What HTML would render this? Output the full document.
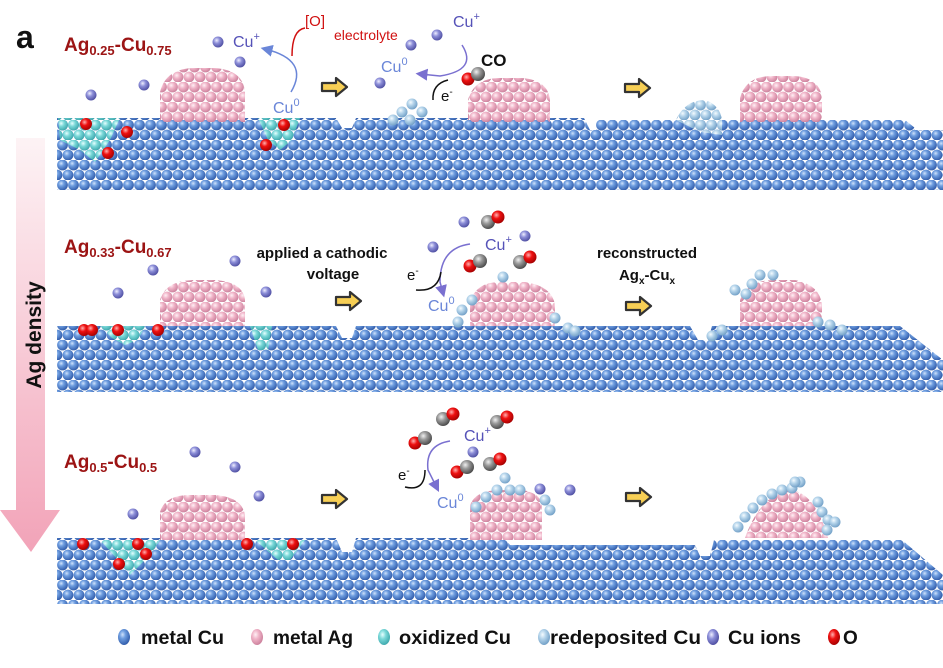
<!DOCTYPE html>
<html><head><meta charset="utf-8"><style>
html,body{margin:0;padding:0;background:#fff;width:943px;height:668px;overflow:hidden}
svg{display:block;font-family:"Liberation Sans",Arial,sans-serif}
</style></head><body>
<svg width="943" height="668" viewBox="0 0 943 668" xmlns="http://www.w3.org/2000/svg">
<defs>
<radialGradient id="gb" cx="0.38" cy="0.35" r="0.7"><stop offset="0" stop-color="#cfe2fb"/><stop offset="0.35" stop-color="#6f9ee0"/><stop offset="1" stop-color="#2c57a6"/></radialGradient>
<radialGradient id="gp" cx="0.38" cy="0.35" r="0.7"><stop offset="0" stop-color="#fff0f5"/><stop offset="0.4" stop-color="#f0b4c8"/><stop offset="1" stop-color="#c97d99"/></radialGradient>
<radialGradient id="gc" cx="0.38" cy="0.35" r="0.7"><stop offset="0" stop-color="#e6ffff"/><stop offset="0.4" stop-color="#7ad8d8"/><stop offset="1" stop-color="#3aa5aa"/></radialGradient>
<radialGradient id="gl" cx="0.38" cy="0.35" r="0.7"><stop offset="0" stop-color="#f4fbff"/><stop offset="0.4" stop-color="#b3d3ea"/><stop offset="1" stop-color="#6d9cc4"/></radialGradient>
<radialGradient id="gi" cx="0.38" cy="0.35" r="0.7"><stop offset="0" stop-color="#eeeeff"/><stop offset="0.4" stop-color="#8c8ed8"/><stop offset="1" stop-color="#4a4a9e"/></radialGradient>
<radialGradient id="gr" cx="0.38" cy="0.35" r="0.7"><stop offset="0" stop-color="#ffb0b0"/><stop offset="0.4" stop-color="#ee1010"/><stop offset="1" stop-color="#a00000"/></radialGradient>
<radialGradient id="gg" cx="0.38" cy="0.35" r="0.7"><stop offset="0" stop-color="#f0f0f0"/><stop offset="0.4" stop-color="#999"/><stop offset="1" stop-color="#444"/></radialGradient>
<pattern id="pb" width="11" height="20" patternUnits="userSpaceOnUse" x="2" y="0"><circle cx="5.5" cy="5" r="5.4" fill="url(#gb)"/><circle cx="0" cy="15" r="5.4" fill="url(#gb)"/><circle cx="11" cy="15" r="5.4" fill="url(#gb)"/></pattern>
<pattern id="pp" width="11" height="20" patternUnits="userSpaceOnUse" x="2" y="2"><circle cx="5.5" cy="5" r="5.4" fill="url(#gp)"/><circle cx="0" cy="15" r="5.4" fill="url(#gp)"/><circle cx="11" cy="15" r="5.4" fill="url(#gp)"/></pattern>
<pattern id="pc" width="11" height="20" patternUnits="userSpaceOnUse" x="2" y="0"><circle cx="5.5" cy="5" r="5.4" fill="url(#gc)"/><circle cx="0" cy="15" r="5.4" fill="url(#gc)"/><circle cx="11" cy="15" r="5.4" fill="url(#gc)"/></pattern>
<pattern id="pl" width="11" height="20" patternUnits="userSpaceOnUse" x="2" y="0"><circle cx="5.5" cy="5" r="5.4" fill="url(#gl)"/><circle cx="0" cy="15" r="5.4" fill="url(#gl)"/><circle cx="11" cy="15" r="5.4" fill="url(#gl)"/></pattern>
<circle id="ion" r="5.5" fill="url(#gi)"/>
<circle id="ox" r="6" fill="url(#gr)"/>
<circle id="lb" r="5.5" fill="url(#gl)"/>
<g id="co"><circle cx="-5" cy="2" r="7" fill="url(#gg)"/><circle cx="5" cy="-3" r="6.5" fill="url(#gr)"/></g>
<g id="oc"><circle cx="-5" cy="3" r="6.5" fill="url(#gr)"/><circle cx="5" cy="-2" r="7" fill="url(#gg)"/></g>
<g id="arr"><path d="M0,-4 h14 v-5 l11,9 l-11,9 v-5 h-14 z" fill="#f7cf55" stroke="#333" stroke-width="2.2" stroke-linejoin="round"/></g>
<linearGradient id="ag" x1="0" y1="0" x2="0" y2="1"><stop offset="0" stop-color="#fdf3f5"/><stop offset="1" stop-color="#f2a3b8"/></linearGradient>
<marker id="mb" markerWidth="8" markerHeight="8" refX="5" refY="4" orient="auto"><path d="M0,0 L8,4 L0,8 z" fill="#6a86d8"/></marker>
<marker id="mv" markerWidth="8" markerHeight="8" refX="5" refY="4" orient="auto"><path d="M0,0 L8,4 L0,8 z" fill="#7a70d0"/></marker>
</defs>

<!-- density arrow -->
<path d="M16,138 H45 V510 H60 L31,552 L0,510 H16 Z" fill="url(#ag)"/>
<text transform="translate(41,335) rotate(-90)" text-anchor="middle" font-size="21" font-weight="bold" fill="#111">Ag  density</text>

<text x="16" y="48" font-size="32" font-weight="bold" fill="#111">a</text>

<!-- ROW 1 -->
<path d="M57,118 H336 L342,128 H352 L356,118 H584 L590,130 H943 V190 H57 Z" fill="url(#pb)"/>
<path d="M596,130 V120 H905 L915,128 V190 Z" fill="url(#pb)"/>
<path d="M160,122 V92 Q166,68 195,68 H215 Q243,70 245,92 V122 Z" fill="url(#pp)"/>
<path d="M468,122 V100 Q474,78 500,78 H522 Q548,80 550,100 V122 Z" fill="url(#pp)"/>
<path d="M740,122 V98 Q746,76 772,76 H795 Q820,78 822,98 V122 Z" fill="url(#pp)"/>
<path d="M58,118 H120 L110,140 L95,162 L80,150 L60,140 Z" fill="url(#pc)"/>
<path d="M258,118 H300 L292,140 L280,150 L268,140 Z" fill="url(#pc)"/>
<path d="M676,120 Q685,100 705,100 Q720,105 722,120 L722,135 L700,132 Z" fill="url(#pl)"/>
<use href="#ox" x="86" y="124"/><use href="#ox" x="127" y="132"/><use href="#ox" x="108" y="153"/>
<use href="#ox" x="284" y="125"/><use href="#ox" x="266" y="145"/>
<use href="#lb" x="402" y="112"/><use href="#lb" x="412" y="104"/><use href="#lb" x="422" y="112"/><use href="#lb" x="410" y="120"/><use href="#lb" x="393" y="120"/>
<use href="#ion" x="91" y="95"/><use href="#ion" x="144" y="85"/>
<use href="#ion" x="218" y="42"/><use href="#ion" x="240" y="62"/><use href="#ion" x="437" y="35"/><use href="#ion" x="411" y="45"/><use href="#ion" x="380" y="83"/>
<use href="#oc" x="473" y="76"/>
<text x="481" y="66" font-size="17" font-weight="bold" fill="#111">CO</text>
<text x="233" y="47" font-size="16" fill="#5552b8">Cu<tspan font-size="11" dy="-7">+</tspan></text>
<text x="273" y="113" font-size="16" fill="#6a86d8">Cu<tspan font-size="11" dy="-7">0</tspan></text>
<path d="M291,92 Q310,60 265,49" fill="none" stroke="#6a86d8" stroke-width="1.5" marker-end="url(#mb)"/>
<path d="M292,56 Q292,30 305,28" fill="none" stroke="#d01010" stroke-width="1.5"/>
<text x="305" y="26" font-size="15" fill="#d01010">[O]</text>
<text x="334" y="40" font-size="14" fill="#d01010">electrolyte</text>
<text x="453" y="27" font-size="16" fill="#5552b8">Cu<tspan font-size="11" dy="-7">+</tspan></text>
<text x="381" y="72" font-size="16" fill="#6a86d8">Cu<tspan font-size="11" dy="-7">0</tspan></text>
<path d="M462,45 Q478,70 440,76 L420,74" fill="none" stroke="#7a70d0" stroke-width="1.5" marker-end="url(#mv)"/>
<path d="M433,100 Q432,84 448,80" fill="none" stroke="#111" stroke-width="1.5"/>
<text x="441" y="101" font-size="15" fill="#111">e<tspan font-size="10" dy="-6">-</tspan></text>
<use href="#arr" x="322" y="87"/><use href="#arr" x="625" y="88"/>
<text x="64" y="51" font-size="19" font-weight="bold" fill="#9c1414">Ag<tspan font-size="13" dy="4">0.25</tspan><tspan dy="-4">-Cu</tspan><tspan font-size="13" dy="4">0.75</tspan></text>

<!-- ROW 2 -->
<path d="M57,326 H336 L342,338 H352 L356,326 H690 L698,340 H708 L712,326 H900 L943,360 V392 H57 Z" fill="url(#pb)"/>
<path d="M160,326 V300 Q166,280 195,280 H215 Q243,282 245,300 V326 Z" fill="url(#pp)"/>
<path d="M470,326 V302 Q476,282 500,282 H525 Q552,286 555,305 V326 Z" fill="url(#pp)"/>
<path d="M740,326 V300 Q748,280 775,280 H795 Q820,285 822,305 V326 Z" fill="url(#pp)"/>
<path d="M100,326 H145 L138,340 L125,345 L112,338 Z" fill="url(#pc)"/>
<path d="M250,326 H272 L268,350 L258,350 Z" fill="url(#pc)"/>
<use href="#ox" x="84" y="330"/><use href="#ox" x="92" y="330"/><use href="#ox" x="118" y="330"/><use href="#ox" x="158" y="330"/>
<use href="#lb" x="458" y="322"/><use href="#lb" x="462" y="310"/><use href="#lb" x="472" y="300"/><use href="#lb" x="503" y="277"/><use href="#lb" x="555" y="318"/><use href="#lb" x="568" y="328"/><use href="#lb" x="575" y="331"/>
<use href="#lb" x="735" y="290"/><use href="#lb" x="746" y="294"/><use href="#lb" x="752" y="284"/><use href="#lb" x="760" y="275"/><use href="#lb" x="773" y="275"/>
<use href="#lb" x="830" y="325"/><use href="#lb" x="842" y="330"/><use href="#lb" x="818" y="322"/><use href="#lb" x="712" y="336"/><use href="#lb" x="722" y="330"/>
<use href="#ion" x="118" y="293"/><use href="#ion" x="153" y="270"/><use href="#ion" x="235" y="261"/><use href="#ion" x="266" y="292"/>
<use href="#ion" x="433" y="247"/><use href="#ion" x="464" y="222"/><use href="#ion" x="525" y="236"/>
<use href="#co" x="493" y="220"/><use href="#oc" x="475" y="263"/><use href="#co" x="525" y="260"/>
<text x="485" y="250" font-size="16" fill="#5552b8">Cu<tspan font-size="11" dy="-7">+</tspan></text>
<text x="428" y="311" font-size="16" fill="#6a86d8">Cu<tspan font-size="11" dy="-7">0</tspan></text>
<path d="M470,244 Q440,248 440,282 L443,293" fill="none" stroke="#7a70d0" stroke-width="1.5" marker-end="url(#mv)"/>
<path d="M416,290 Q438,292 441,272" fill="none" stroke="#111" stroke-width="1.5"/>
<text x="407" y="280" font-size="15" fill="#111">e<tspan font-size="10" dy="-6">-</tspan></text>
<text x="322" y="258" font-size="15" font-weight="bold" fill="#111" text-anchor="middle">applied a cathodic</text>
<text x="333" y="279" font-size="15" font-weight="bold" fill="#111" text-anchor="middle">voltage</text>
<text x="647" y="258" font-size="15" font-weight="bold" fill="#111" text-anchor="middle">reconstructed</text>
<text x="647" y="280" font-size="15" font-weight="bold" fill="#111" text-anchor="middle">Ag<tspan font-size="10" dy="4">x</tspan><tspan dy="-4">-Cu</tspan><tspan font-size="10" dy="4">x</tspan></text>
<use href="#arr" x="336" y="301"/><use href="#arr" x="626" y="306"/>
<text x="64" y="253" font-size="19" font-weight="bold" fill="#9c1414">Ag<tspan font-size="13" dy="4">0.33</tspan><tspan dy="-4">-Cu</tspan><tspan font-size="13" dy="4">0.67</tspan></text>

<!-- ROW 3 -->
<path d="M57,538 H336 L342,552 H352 L356,538 H505 L510,545 H515 H695 L700,556 H710 L714,540 H902 L943,575 V604 H57 Z" fill="url(#pb)"/>
<path d="M160,540 V512 Q165,495 190,495 H215 Q242,497 245,515 V540 Z" fill="url(#pp)"/>
<path d="M470,540 V505 Q476,490 500,490 H520 Q540,492 542,505 V540 Z" fill="url(#pp)"/>
<path d="M745,538 Q760,495 790,490 Q815,492 828,538 Z" fill="url(#pp)"/>
<path d="M100,540 H160 L150,555 L130,575 L118,560 Z" fill="url(#pc)"/>
<path d="M255,540 H305 L290,560 L278,560 Z" fill="url(#pc)"/>
<use href="#ox" x="83" y="544"/><use href="#ox" x="138" y="544"/><use href="#ox" x="146" y="554"/><use href="#ox" x="119" y="564"/><use href="#ox" x="247" y="544"/><use href="#ox" x="293" y="544"/>
<use href="#lb" x="476" y="507"/><use href="#lb" x="486" y="497"/><use href="#lb" x="497" y="490"/><use href="#lb" x="505" y="478"/><use href="#lb" x="510" y="490"/><use href="#lb" x="520" y="490"/><use href="#lb" x="545" y="500"/><use href="#lb" x="550" y="510"/>
<use href="#lb" x="738" y="527"/><use href="#lb" x="745" y="517"/><use href="#lb" x="753" y="508"/><use href="#lb" x="762" y="500"/><use href="#lb" x="772" y="494"/><use href="#lb" x="782" y="490"/><use href="#lb" x="792" y="488"/><use href="#lb" x="800" y="482"/><use href="#lb" x="795" y="482"/>
<use href="#lb" x="818" y="502"/><use href="#lb" x="822" y="512"/><use href="#lb" x="828" y="520"/><use href="#lb" x="835" y="522"/><use href="#lb" x="827" y="530"/>
<use href="#ion" x="195" y="452"/><use href="#ion" x="235" y="467"/><use href="#ion" x="259" y="496"/><use href="#ion" x="133" y="514"/>
<use href="#ion" x="473" y="452"/><use href="#ion" x="540" y="489"/><use href="#ion" x="570" y="490"/>
<use href="#co" x="448" y="417"/><use href="#oc" x="420" y="440"/><use href="#oc" x="462" y="469"/><use href="#co" x="502" y="420"/><use href="#co" x="495" y="462"/>
<text x="464" y="441" font-size="16" fill="#5552b8">Cu<tspan font-size="11" dy="-7">+</tspan></text>
<text x="437" y="508" font-size="16" fill="#6a86d8">Cu<tspan font-size="11" dy="-7">0</tspan></text>
<path d="M450,441 Q425,445 428,470 L437,488" fill="none" stroke="#7a70d0" stroke-width="1.5" marker-end="url(#mv)"/>
<path d="M405,487 Q425,492 425,470" fill="none" stroke="#111" stroke-width="1.5"/>
<text x="398" y="480" font-size="15" fill="#111">e<tspan font-size="10" dy="-6">-</tspan></text>
<use href="#arr" x="322" y="499"/><use href="#arr" x="626" y="497"/>
<text x="64" y="468" font-size="19" font-weight="bold" fill="#9c1414">Ag<tspan font-size="13" dy="4">0.5</tspan><tspan dy="-4">-Cu</tspan><tspan font-size="13" dy="4">0.5</tspan></text>

<!-- legend -->
<g font-size="19" font-weight="bold" fill="#111">
<ellipse cx="124" cy="637" rx="6" ry="8" fill="url(#gb)"/><text x="141" y="644" textLength="83" lengthAdjust="spacingAndGlyphs">metal Cu</text>
<ellipse cx="257" cy="637" rx="6" ry="8" fill="url(#gp)"/><text x="273" y="644" textLength="80" lengthAdjust="spacingAndGlyphs">metal Ag</text>
<ellipse cx="384" cy="637" rx="6" ry="8" fill="url(#gc)"/><text x="399" y="644" textLength="112" lengthAdjust="spacingAndGlyphs">oxidized Cu</text>
<ellipse cx="544" cy="637" rx="6" ry="8" fill="url(#gl)"/><text x="550" y="644" textLength="151" lengthAdjust="spacingAndGlyphs">redeposited  Cu</text>
<ellipse cx="713" cy="637" rx="6" ry="8" fill="url(#gi)"/><text x="728" y="644" textLength="73" lengthAdjust="spacingAndGlyphs">Cu ions</text>
<ellipse cx="834" cy="637" rx="6" ry="8" fill="url(#gr)"/><text x="843" y="644">O</text>
</g>
</svg>
</body></html>
